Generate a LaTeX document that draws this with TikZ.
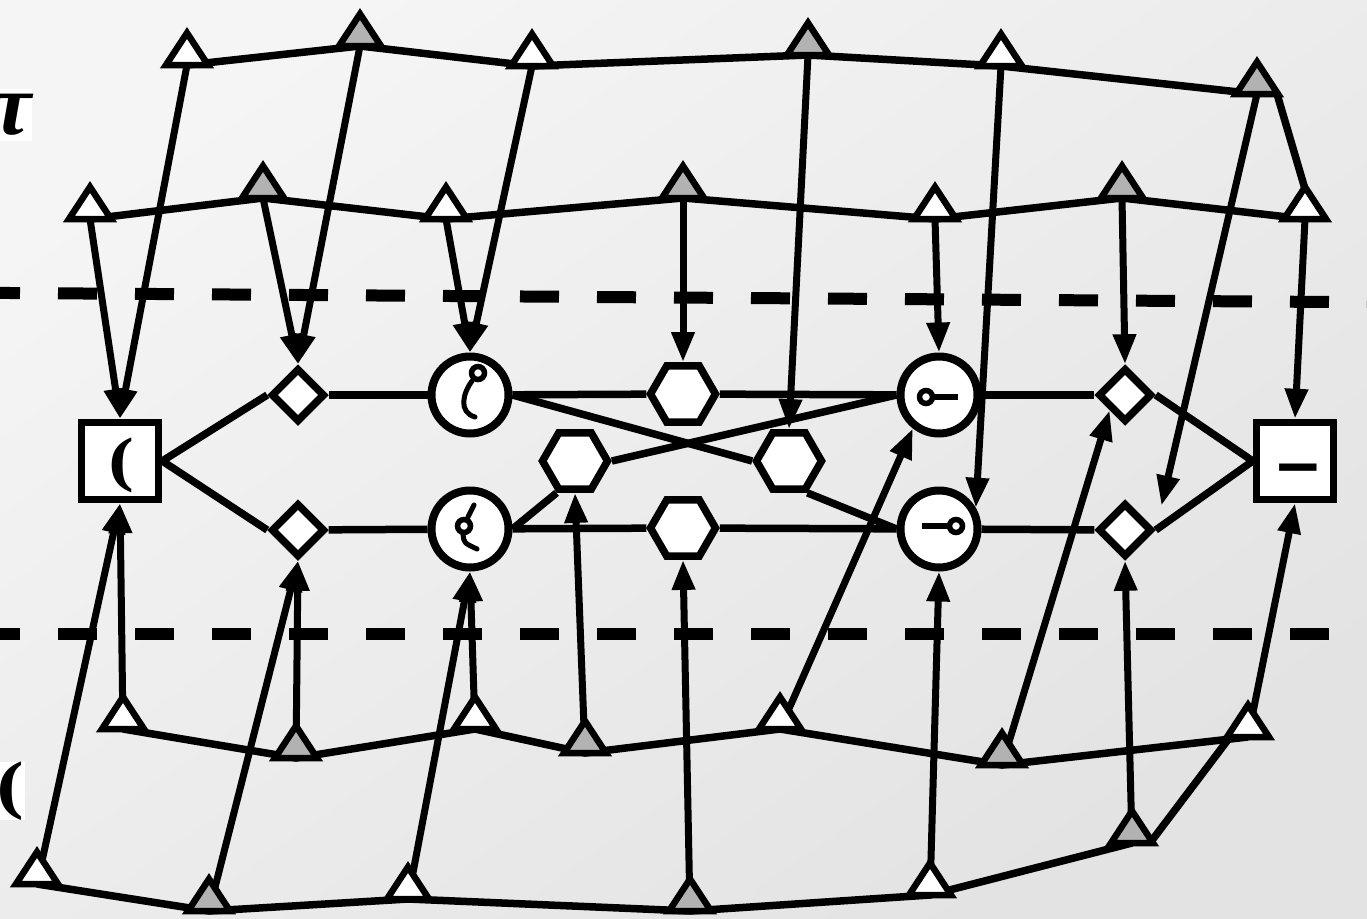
\documentclass[tikz,border=0pt]{standalone}
\usepackage{fontspec}
\newfontfamily\djv{DejaVu Sans}
\newfontfamily\djs{DejaVu Serif}
\newfontfamily\lis{Liberation Serif}
\usetikzlibrary{arrows.meta,shapes.geometric,calc}
\pgfdeclarelayer{bg}
\pgfsetlayers{bg,main}
\begin{document}
\begin{tikzpicture}[x=1pt,y=-1pt,
  conn/.style={line width=7.5pt},
  arr/.style={line width=7pt,-{Triangle[length=30pt,width=22pt]}},
  sq/.style={draw,rectangle,line width=7.5pt,fill=white,minimum size=77pt,inner sep=0pt},
  rnd/.style={draw,circle,line width=8pt,fill=white,minimum size=77pt,inner sep=0pt},
  dmd/.style={draw,diamond,line width=7.5pt,fill=white,minimum width=54pt,minimum height=54pt,inner sep=0pt},
  hx/.style={draw,regular polygon,regular polygon sides=6,line width=7.5pt,fill=white,minimum size=65pt,inner sep=0pt},
  dashln/.style={line width=12pt,dash pattern=on 39pt off 38pt},
  glyph/.style={line width=5pt,line cap=round},
  ringg/.style={line width=5.5pt,fill=white},
  pics/tri/.style={code={\filldraw[line width=6.5pt,line join=miter,fill=#1] (-21,0) -- (0,-32) -- (21,0) -- cycle;}}
]
\useasboundingbox (0,0) rectangle (1367,918);
% triangle base centres
\coordinate (a1) at (187,65);
\coordinate (a2) at (360,46);
\coordinate (a3) at (532,66);
\coordinate (a4) at (808,55);
\coordinate (a5) at (1001,66);
\coordinate (a6) at (1257,94);
\coordinate (b1) at (90,219);
\coordinate (b2) at (263,198);
\coordinate (b3) at (446,219);
\coordinate (b4) at (683,198);
\coordinate (b5) at (935,219);
\coordinate (b6) at (1122,198);
\coordinate (b7) at (1305,219);
\coordinate (p1) at (123,729);
\coordinate (p2) at (296,758);
\coordinate (p3) at (475,729);
\coordinate (p4) at (585,753);
\coordinate (p5) at (780,729);
\coordinate (p6) at (1002,765);
\coordinate (p7) at (1248,737);
\coordinate (q1) at (37,884);
\coordinate (q2) at (209,911);
\coordinate (q3) at (408,899);
\coordinate (q4) at (690,911);
\coordinate (q5) at (930,895);
\coordinate (q6) at (1132,843);
% middle nodes
\node[sq] (l) at (120,461) {};
\node[sq] (r) at (1295,461) {};
\node[dmd] (d1) at (298,395) {};
\node[dmd] (d2) at (298,530) {};
\node[dmd] (d3) at (1125,395) {};
\node[dmd] (d4) at (1125,530) {};
\node[rnd] (k1) at (470,395) {};
\node[rnd] (k2) at (470,529) {};
\node[rnd] (k3) at (939,395) {};
\node[rnd] (k4) at (939,529) {};
\node[hx] (h1) at (683,394) {};
\node[hx] (h2) at (575,461) {};
\node[hx] (h3) at (789,461) {};
\node[hx] (h4) at (683,528) {};
% glyphs
\node[inner sep=0pt] (lt) at (121,465) {\djs\bfseries\fontsize{60}{60}\selectfont (};
\node[inner sep=0pt,anchor=base] (rt) at (1298,483) {\djv\bfseries\fontsize{68}{68}\selectfont\scalebox{1.4}[0.85]{–}};
\draw[glyph] (472,381) .. controls (463,393) and (458,412) .. (475,417);
\draw[ringg] (478,373) circle[radius=6.5pt];
\draw[glyph] (474,505) -- (468,517);
\draw[glyph] (463,534) .. controls (464,543) .. (477,549);
\draw[ringg] (464,526) circle[radius=6.5pt];
\draw[line width=6pt] (933,397) -- (958,397);
\draw[ringg] (926,397) circle[radius=6.5pt];
\draw[line width=6pt] (922,526) -- (950,526);
\draw[ringg] (956,526) circle[radius=6.5pt];
% labels at left edge
\node[fill=white,inner sep=0pt,minimum height=52pt,anchor=east] (tau) at (32,115) {\lis\bfseries\itshape\fontsize{88}{88}\selectfont τ\hspace{3pt}};
\node[fill=white,inner sep=0pt,minimum height=58pt,anchor=east] (zeta) at (25,791) {\djs\bfseries\fontsize{64}{64}\selectfont (\hspace{1pt}};
% triangles
\foreach \n in {a1,a3,a5,b1,b3,b5,b7,p1,p3,p5,p7,q1,q3,q5} {\path (\n) pic{tri=white};}
\foreach \n in {a2,a4,a6,b2,b4,b6,p2,p4,p6,q2,q4,q6} {\path (\n) pic{tri=black!30};}
\begin{pgfonlayer}{bg}
\shade[top color=black!4,bottom color=black!11,shading angle=35] (0,0) rectangle (1367,918);
\draw[dashln] (-19,292.8) -- (1390,302.4);
\draw[dashln] (-19,634) -- (1390,634);
% rows of triangles
\draw[conn] (a1) -- (a2) -- (a3) -- (a4) -- (a5) -- (a6);
\draw[conn] ($(a6)+(20,0)$) -- ($(b7)+(0,-30)$);
\draw[conn] (b1) -- (b2) -- (b3) -- (b4) -- (b5) -- (b6) -- (b7);
\draw[conn] (p1) -- (p2) -- (p3) -- (p4) -- (p5) -- (p6) -- (p7);
\draw[conn] (q1) -- (q2) -- (q3) -- (q4) -- (q5) -- (q6);
\draw[conn] ($(q6)+(18,0)$) -- ($(p7)+(-18,0)$);
% middle network
\draw[conn] (l.east) -- (d1.west);
\draw[conn] (l.east) -- (d2.west);
\draw[conn] (d1) -- (k1);
\draw[conn] (d2) -- (k2);
\draw[conn] (k1) -- (h1) -- (k3);
\draw[conn] (k2) -- (h4) -- (k4);
\draw[conn] (k1.east) -- (h3.west);
\draw[conn] (h3.300) -- (k4.west);
\draw[conn] (k2.east) -- (h2.240);
\draw[conn] (h2.east) -- (k3.west);
\draw[conn] (k3) -- (d3);
\draw[conn] (k4) -- (d4);
\draw[conn] (d3.east) -- (r.west);
\draw[conn] (d4.east) -- (r.west);
% arrows from above
\draw[arr] (b1) -- (l.north);
\draw[arr] (a1) -- (l.north);
\draw[arr] (b2) -- (d1.north);
\draw[arr] (a2) -- (d1.north);
\draw[arr] (b3) -- (k1.north);
\draw[arr] (a3) -- (k1.north);
\draw[arr] (b4) -- (h1.north);
\draw[arr] (a4) -- (h3.north);
\draw[arr] (b5) -- (k3.north);
\draw[arr] (a5) -- (k4.30);
\draw[arr] (b6) -- (d3.north);
\draw[arr,shorten >=25pt] (a6) -- (d4.east);
\draw[arr] (b7) -- (r.north);
% arrows from below
\draw[arr] (p1) -- (l.south);
\draw[arr] (q1) -- (l.south);
\draw[arr] (p2) -- (d2.south);
\draw[arr] (q2) -- (d2.south);
\draw[arr] (p3) -- (k2.south);
\draw[arr] (q3) -- (k2.south);
\draw[arr] (p4) -- (h2.south);
\draw[arr] (q4) -- (h4.south);
\draw[arr] (p5) -- (k3.232);
\draw[arr] (q5) -- (k4.south);
\draw[arr] (p6) -- (d3.south west);
\draw[arr] (q6) -- (d4.south);
\draw[arr] (p7) -- (r.south);
\end{pgfonlayer}
\end{tikzpicture}
\end{document}
